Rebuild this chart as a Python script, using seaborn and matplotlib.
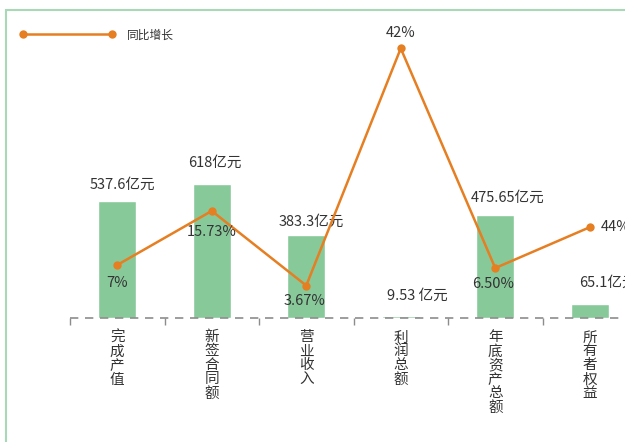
import numpy as np
import matplotlib
matplotlib.use("Agg")
import matplotlib.pyplot as plt
from matplotlib.lines import Line2D
from matplotlib.patches import Rectangle
import seaborn as sns

# data
categories = ["完成产值", "新签合同额", "营业收入", "利润总额", "年底资产总额", "所有者权益"]
amounts = [537.6, 618, 383.3, 9.53, 475.65, 65.1]
amount_labels = ["537.6亿元", "618亿元", "383.3亿元", "9.53 亿元", "475.65亿元", "65.1亿元"]
growth = [7, 15.73, 3.67, 42, 6.5, 13.1]
growth_labels = ["7%", "15.73%", "3.67%", "42%", "6.50%", "44%"]

sns.set_style("white")
plt.rcParams["font.family"] = ["Noto Sans CJK SC", "DejaVu Sans"]

green = "#88c99a"
orange = "#e67e22"
text_c = "#333333"

fig = plt.figure(figsize=(6.25, 4.42), dpi=100)
ax = fig.add_axes([70 / 625, 124 / 442, 567 / 625, 308 / 442])

x = np.arange(len(categories))
sns.barplot(x=categories, y=amounts, color=green, width=0.4, saturation=1, ax=ax, zorder=2)
ax.set_xlim(-0.5, 5.5)
ax.set_ylim(0, 1418)
for s in ax.spines.values():
    s.set_visible(False)
ax.axhline(0, color="#8c8c8c", lw=1.2, ls=(0, (5, 4)), zorder=5, clip_on=False)
ax.set_yticks([])
ax.set_ylabel("")
ax.set_xticks(x)
ax.set_xticklabels(["\n".join(c) for c in categories], fontsize=10.5, color=text_c,
                   linespacing=1.0, va="top")
ax.tick_params(axis="x", which="major", length=0, pad=9)
ax.set_xticks(np.arange(-0.5, 6), minor=True)
ax.tick_params(axis="x", which="minor", bottom=True, length=5, width=1,
               color="#8c8c8c", direction="out")

# bar value labels (pixel offsets from bar top)
bar_off = [(5, 16), (3, 21), (5, 13), (17, 20), (12, 17), (18, 21)]
for i, (v, lab) in enumerate(zip(amounts, amount_labels)):
    dx, dy = bar_off[i]
    ax.annotate(lab, (i, v), xytext=(dx, dy), textcoords="offset pixels",
                ha="center", va="center", fontsize=10.5, color=text_c)

ax2 = ax.twinx()
sns.lineplot(x=x, y=growth, color=orange, lw=1.8, marker="o", markersize=6,
             markeredgewidth=0, ax=ax2)
ax2.set_ylim(-1.57, 48.2)
ax2.set_yticks([])
ax2.set_ylabel("")
for s in ax2.spines.values():
    s.set_visible(False)

line_off = [(0, -18), (0, -21), (-2, -15), (0, 15), (-2, -16), (11, 0)]
for i, (v, lab) in enumerate(zip(growth, growth_labels)):
    dx, dy = line_off[i]
    ha = "left" if i == len(growth) - 1 else "center"
    ax2.annotate(lab, (i, v), xytext=(dx, dy), textcoords="offset pixels",
                 ha=ha, va="center", fontsize=10.5, color=text_c)

# legend
handle = Line2D([0], [0], color=orange, lw=1.8, marker="o", markersize=6, markeredgewidth=0)
fig.legend([handle], ["同比增长"], loc="center left", bbox_to_anchor=(19 / 625, 1 - 35 / 442),
           frameon=False, numpoints=2, handlelength=8.2, handletextpad=0.95,
           borderpad=0, borderaxespad=0, prop={"size": 8.5}, labelcolor=text_c)

# outer frame (runs off the right and bottom of the image)
fig.patches.append(Rectangle((6 / 625, -0.2), 1.2, 1.2 - 10 / 442, transform=fig.transFigure,
                             fill=False, edgecolor="#a9d8b8", lw=1.5))

fig.savefig("out.png", dpi=100)
